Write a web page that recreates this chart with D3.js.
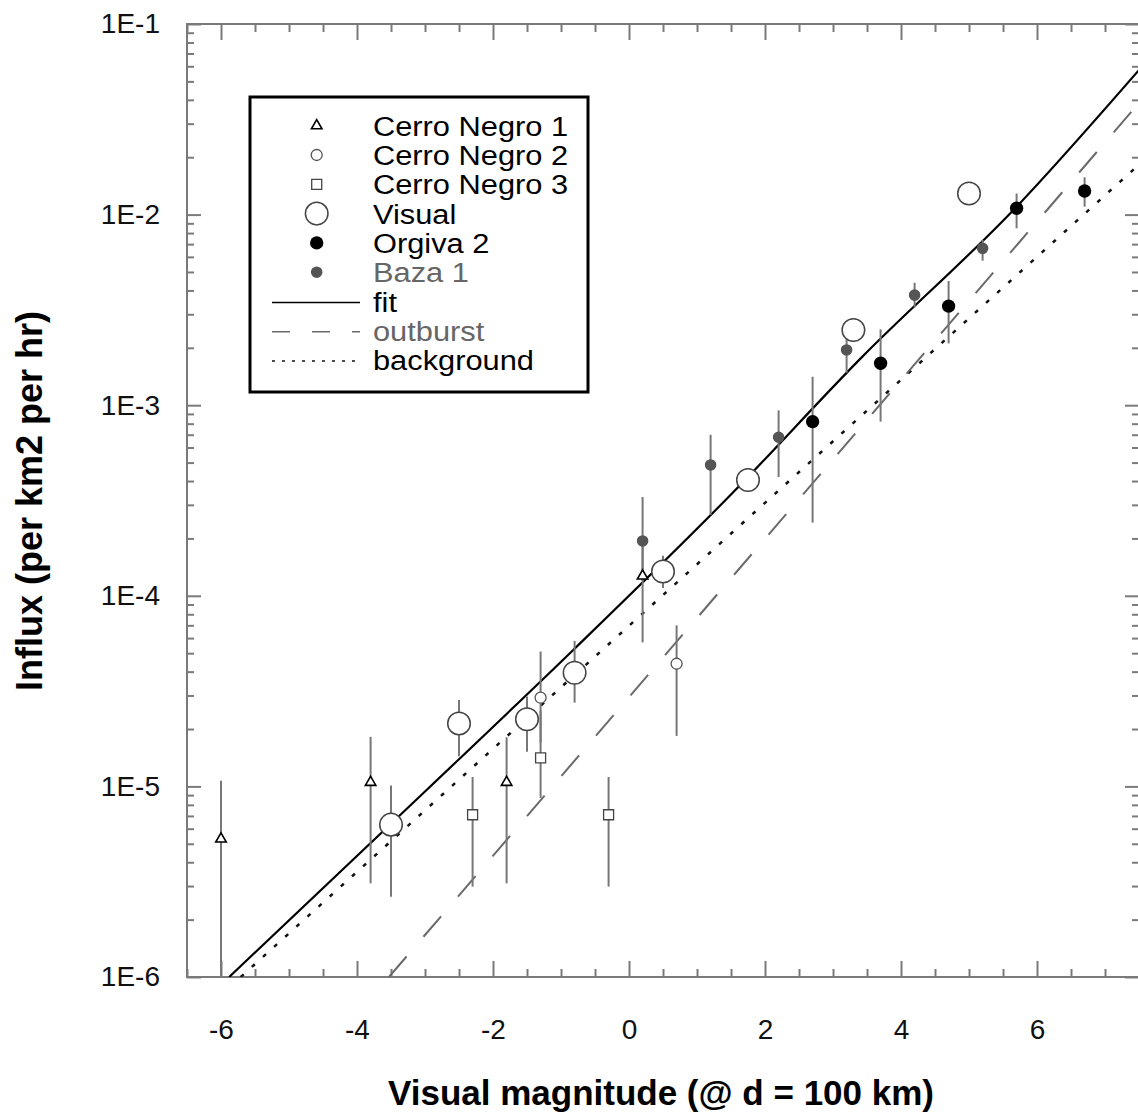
<!DOCTYPE html>
<html>
<head>
<meta charset="utf-8">
<script src="https://cdn.jsdelivr.net/npm/d3@7"></script>
<style>
body { margin: 0; background: #fff; }
text { font-family: "Liberation Sans", Arial, Helvetica, sans-serif; }
</style>
</head>
<body>
<svg id="chart" width="1138" height="1115"></svg>
<script>
// each row: magnitude, influx, lower error, upper error
var cerroNegro1 = [
    [-6.0, 5.3e-6, 1e-7, 1.07e-5],
    [-3.8, 1.05e-5, 3.1e-6, 1.82e-5],
    [-1.8, 1.05e-5, 3.1e-6, 1.81e-5],
    [0.2, 1.27e-4, 5.7e-5, 2.0e-4]
]
var cerroNegro2 = [
    [-1.3, 2.92e-5, 1.7e-5, 5.1e-5],
    [0.7, 4.4e-5, 1.84e-5, 7.0e-5]
]
var cerroNegro3 = [
    [-2.3, 7.1e-6, 2.98e-6, 1.12e-5],
    [-1.3, 1.41e-5, 8.7e-6, 2.5e-5],
    [-0.3, 7.1e-6, 2.98e-6, 1.12e-5]
]
var visual = [
    [-3.5, 6.3e-6, 2.64e-6, 1.01e-5],
    [-2.5, 2.14e-5, 1.44e-5, 2.84e-5],
    [-1.5, 2.25e-5, 1.52e-5, 2.96e-5],
    [-0.8, 3.95e-5, 2.75e-5, 5.8e-5],
    [0.5, 1.34e-4, 1.1e-4, 1.62e-4],
    [1.75, 4.05e-4, 3.6e-4, 4.6e-4],
    [3.3, 2.48e-3, 2.2e-3, 2.8e-3],
    [5.0, 1.29e-2, 1.2e-2, 1.4e-2]
]
var orgiva2 = [
    [2.7, 8.2e-4, 2.42e-4, 1.41e-3],
    [3.7, 1.66e-3, 8.2e-4, 2.5e-3],
    [4.7, 3.31e-3, 2.11e-3, 4.48e-3],
    [5.7, 1.08e-2, 8.47e-3, 1.29e-2],
    [6.7, 1.33e-2, 1.1e-2, 1.57e-2]
]
var baza1 = [
    [0.2, 1.94e-4, 1.2e-4, 3.3e-4],
    [1.2, 4.86e-4, 2.66e-4, 7.0e-4],
    [2.2, 6.79e-4, 4.2e-4, 9.4e-4],
    [3.2, 1.95e-3, 1.48e-3, 2.6e-3],
    [4.2, 3.78e-3, 3.26e-3, 4.39e-3],
    [5.2, 6.65e-3, 5.73e-3, 7.36e-3]
]

var fitLine = [[-5.88, 1.0e-6], [-3.0, 9.4e-6], [-0.82, 5.2e-5], [1.5, 3.4e-4], [3.4, 1.75e-3], [5.7, 1.1e-2], [7.5, 0.0574]]
var outburstLine = [[-3.53, 1.0e-6], [7.5, 0.0386]]
var backgroundLine = [[-5.71, 1.0e-6], [7.5, 0.0183]]

var xMajor = [-6, -4, -2, 0, 2, 4, 6]
var yMajor = [1e-6, 1e-5, 1e-4, 1e-3, 1e-2, 1e-1]
var yLabels = ["1E-6", "1E-5", "1E-4", "1E-3", "1E-2", "1E-1"]

var legendNames = ["Cerro Negro 1", "Cerro Negro 2", "Cerro Negro 3", "Visual", "Orgiva 2", "Baza 1", "fit", "outburst", "background"]

var svg = d3.select("#chart")
var plotLeft = 187, plotRight = 1139, plotTop = 24, plotBottom = 977

var x = d3.scaleLinear().domain([-6.5, 7.5]).range([plotLeft, plotRight])
var y = d3.scaleLog().domain([1e-6, 1e-1]).range([plotBottom, plotTop])

var axisColor = "#7a7a7a"

// minor ticks
var xMinor = d3.range(-6.5, 7.51, 0.5).filter(function(d){ return xMajor.indexOf(d) < 0 })
var yMinor = y.ticks().filter(function(d){
    var e = Math.log10(d)
    return Math.abs(e - Math.round(e)) > 1e-6
})

function styleAxis(g)
{
    g.select(".domain").remove()
    g.selectAll(".tick line").attr("stroke", axisColor).attr("stroke-width", 2)
    g.selectAll(".tick text").attr("font-size", 28).attr("fill", "#111")
        .style("font-family", "'Liberation Sans', Arial, sans-serif")
}

svg.append("g").attr("transform", "translate(0," + plotBottom + ")")
    .call(d3.axisBottom(x).tickValues(xMajor).tickSize(-16).tickPadding(42).tickFormat(function(d){ return String(d) }))
    .call(styleAxis)
svg.append("g").attr("transform", "translate(0," + plotBottom + ")")
    .call(d3.axisBottom(x).tickValues(xMinor).tickSize(-8).tickFormat(""))
    .call(styleAxis)
svg.append("g").attr("transform", "translate(0," + plotTop + ")")
    .call(d3.axisTop(x).tickValues(xMajor).tickSize(-16).tickFormat(""))
    .call(styleAxis)
svg.append("g").attr("transform", "translate(0," + plotTop + ")")
    .call(d3.axisTop(x).tickValues(xMinor).tickSize(-8).tickFormat(""))
    .call(styleAxis)

svg.append("g").attr("transform", "translate(" + plotLeft + ",0)")
    .call(d3.axisLeft(y).tickValues(yMajor).tickSize(-14).tickPadding(27)
        .tickFormat(function(d, i){ return yLabels[i] }))
    .call(styleAxis)
svg.append("g").attr("transform", "translate(" + plotLeft + ",0)")
    .call(d3.axisLeft(y).tickValues(yMinor).tickSize(-7).tickFormat(""))
    .call(styleAxis)
svg.append("g").attr("transform", "translate(" + plotRight + ",0)")
    .call(d3.axisRight(y).tickValues(yMajor).tickSize(-14).tickFormat(""))
    .call(styleAxis)
svg.append("g").attr("transform", "translate(" + plotRight + ",0)")
    .call(d3.axisRight(y).tickValues(yMinor).tickSize(-7).tickFormat(""))
    .call(styleAxis)

svg.append("rect")
    .attr("x", plotLeft).attr("y", plotTop)
    .attr("width", plotRight - plotLeft).attr("height", plotBottom - plotTop)
    .attr("fill", "none").attr("stroke", axisColor).attr("stroke-width", 2)

// plot content, clipped to the frame
svg.append("clipPath").attr("id", "clip")
    .append("rect").attr("x", plotLeft).attr("y", plotTop)
    .attr("width", plotRight - plotLeft).attr("height", plotBottom - plotTop)
var plot = svg.append("g").attr("clip-path", "url(#clip)")

var line = d3.line().x(function(d){ return x(d[0]) }).y(function(d){ return y(d[1]) })

plot.append("path").datum(backgroundLine).attr("d", line)
    .attr("fill", "none").attr("stroke", "#111").attr("stroke-width", 2.5).attr("stroke-dasharray", "4,11")
plot.append("path").datum(outburstLine).attr("d", line)
    .attr("fill", "none").attr("stroke", "#6a6a6a").attr("stroke-width", 2).attr("stroke-dasharray", "27,26")
plot.append("path").datum(fitLine).attr("d", line.curve(d3.curveMonotoneX))
    .attr("fill", "none").attr("stroke", "#000").attr("stroke-width", 2.2)

var allSeries = [cerroNegro1, cerroNegro2, cerroNegro3, visual, orgiva2, baza1]
allSeries.forEach(function(series)
{
    plot.selectAll(null).data(series).enter()
        .append("line")
        .attr("x1", function(d){ return x(d[0]) })
        .attr("x2", function(d){ return x(d[0]) })
        .attr("y1", function(d){ return y(d[2]) })
        .attr("y2", function(d){ return y(d[3]) })
        .attr("stroke", "#777").attr("stroke-width", 2)
})

var markers = [
    {type: d3.symbolTriangle, size: 48, fill: "#fff", stroke: "#000", sw: 1.6},
    {type: d3.symbolCircle, size: 95, fill: "#fff", stroke: "#555", sw: 1.3},
    {type: d3.symbolSquare, size: 100, fill: "#fff", stroke: "#444", sw: 1.3},
    {type: d3.symbolCircle, size: 400, fill: "#fff", stroke: "#444", sw: 1.5},
    {type: d3.symbolCircle, size: 140, fill: "#000", stroke: "none", sw: 0},
    {type: d3.symbolCircle, size: 105, fill: "#555", stroke: "none", sw: 0}
]

allSeries.forEach(function(series, i)
{
    var m = markers[i]
    plot.selectAll(null).data(series).enter()
        .append("path")
        .attr("transform", function(d){ return "translate(" + x(d[0]) + "," + y(d[1]) + ")" })
        .attr("d", d3.symbol().type(m.type).size(m.size))
        .attr("fill", m.fill).attr("stroke", m.stroke).attr("stroke-width", m.sw)
})

// legend
var legend = svg.append("g")
legend.append("rect").attr("x", 250).attr("y", 97).attr("width", 338).attr("height", 295)
    .attr("fill", "#fff").attr("stroke", "#000").attr("stroke-width", 3)

var lineStyles = [
    {stroke: "#000", dash: null, sw: 1.5},
    {stroke: "#6a6a6a", dash: "18,22", sw: 1.5},
    {stroke: "#111", dash: "3,7", sw: 1.5}
]

legendNames.forEach(function(name, i)
{
    var base = 135.7 + 29.3 * i
    if(i < 6)
    {
        var m = markers[i]
        legend.append("path")
            .attr("transform", "translate(316.7," + (base - 10) + ")")
            .attr("d", d3.symbol().type(m.type).size(m.size))
            .attr("fill", m.fill).attr("stroke", m.stroke).attr("stroke-width", m.sw)
    }
    else
    {
        var s = lineStyles[i - 6]
        legend.append("line")
            .attr("x1", 272).attr("x2", 360)
            .attr("y1", base - 9).attr("y2", base - 9)
            .attr("stroke", s.stroke).attr("stroke-width", s.sw)
            .attr("stroke-dasharray", s.dash)
    }
    legend.append("text")
        .attr("transform", "translate(373," + base + ") scale(1.1,1)")
        .attr("font-size", 28)
        .attr("fill", (name == "Baza 1" || name == "outburst") ? "#666" : "#000")
        .text(name)
})

// axis titles
svg.append("text")
    .attr("x", 661).attr("y", 1105)
    .attr("text-anchor", "middle")
    .attr("font-size", 35).attr("font-weight", "bold")
    .text("Visual magnitude (@ d = 100 km)")

svg.append("text")
    .attr("transform", "translate(42,501) rotate(-90)")
    .attr("text-anchor", "middle")
    .attr("font-size", 36).attr("font-weight", "bold")
    .text("Influx (per km2 per hr)")
</script>
</body>
</html>
